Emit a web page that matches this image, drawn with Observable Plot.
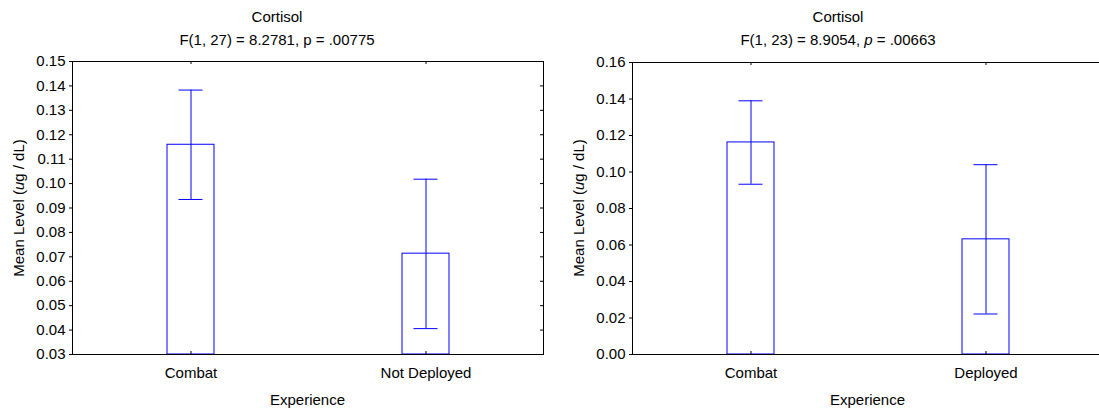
<!DOCTYPE html>
<html><head><meta charset="utf-8">
<script src="https://cdn.jsdelivr.net/npm/d3@7"></script>
<script src="https://cdn.jsdelivr.net/npm/@observablehq/plot@0.6"></script>
<style>
html,body{margin:0;padding:0;background:#fff;overflow:hidden}
#wrap{position:relative;width:1099px;height:408px;overflow:hidden;font-family:"Liberation Sans",Arial,sans-serif;color:#000;background:#fff}
.t{position:absolute;font-size:15px;white-space:nowrap;transform:translate(-50%,-50%);line-height:1}
.yl{position:absolute;font-size:15px;white-space:nowrap;transform:translate(-50%,-50%) rotate(-90deg);line-height:1}
.panel{position:absolute}
</style></head><body><div id="wrap"></div>
<script>
// ---- Left panel data ----
const leftTitle = "Cortisol";
const leftStat = "F(1, 27) = 8.2781, p = .00775";
const leftCategories = ["Combat", "Not Deployed"];
const leftMeans = [0.1159, 0.0713];
const leftLower = [0.0935, 0.0406];
const leftUpper = [0.1383, 0.1018];
const leftTicks = [0.03, 0.04, 0.05, 0.06, 0.07, 0.08, 0.09, 0.10, 0.11, 0.12, 0.13, 0.14, 0.15];

// ---- Right panel data ----
const rightTitle = "Cortisol";
const rightStatPre = "F(1, 23) = 8.9054, ";
const rightStatP = "p";
const rightStatPost = " = .00663";
const rightCategories = ["Combat", "Deployed"];
const rightMeans = [0.1162, 0.0631];
const rightLower = [0.0933, 0.0222];
const rightUpper = [0.1390, 0.1040];
const rightTicks = [0.00, 0.02, 0.04, 0.06, 0.08, 0.10, 0.12, 0.14, 0.16];

const xTitle = "Experience";
const yTitleHTML = "Mean Level (<i>u</i>g / dL)";

const wrap = document.getElementById("wrap");
const BLUE = "#0000ff";

function addDiv(cls, html, x, y) {
  const d = document.createElement("div");
  d.className = cls; d.innerHTML = html;
  d.style.left = x + "px"; d.style.top = y + "px";
  wrap.appendChild(d);
}

function makePanel({cats, means, lo, hi, ticks, left, top, width, height, mL, mR, mT, mB}) {
  const data = cats.map((c, i) => ({cat: c, mean: means[i], lo: lo[i], hi: hi[i]}));
  const dom = d3.extent(ticks);
  const plotW = width - mL - mR, plotH = height - mT - mB;
  const capInset = 11.5;
  const svg = Plot.plot({
    width, height,
    marginLeft: mL, marginRight: mR, marginTop: mT, marginBottom: mB,
    style: {fontFamily: '"Liberation Sans", Arial, sans-serif', fontSize: "15px", color: "#000", background: "transparent", maxWidth: "none", overflow: "visible"},
    x: {type: "band", domain: cats, paddingInner: 0.8, paddingOuter: 0.4},
    y: {domain: dom},
    marks: [
      Plot.barY(data, {x: "cat", y1: () => dom[0], y2: "mean", fill: "white", stroke: BLUE, strokeWidth: 1}),
      Plot.ruleX(data, {x: "cat", y1: "lo", y2: "hi", stroke: BLUE, strokeWidth: 1}),
      Plot.tickY(data, {x: "cat", y: "hi", stroke: BLUE, insetLeft: capInset, insetRight: capInset}),
      Plot.tickY(data, {x: "cat", y: "lo", stroke: BLUE, insetLeft: capInset, insetRight: capInset}),
      Plot.frame({stroke: "#000"}),
      Plot.tickY(ticks, {y: d => d, stroke: "#000", insetLeft: plotW - 3}),
      Plot.tickX(cats, {x: d => d, stroke: "#000", insetBottom: plotH - 3}),
      Plot.tickX(cats, {x: d => d, stroke: "#000", insetTop: plotH - 3}),
      Plot.axisY(ticks, {anchor: "left", tickSize: 3, tickPadding: 4, tickFormat: d3.format(".2f"), label: null, fill: "#000", stroke: "#000"}),
      Plot.axisX({anchor: "bottom", tickSize: 0, tickPadding: 12.5, label: null, fill: "#000"})
    ]
  });
  svg.classList.add("panel");
  svg.style.left = left + "px"; svg.style.top = top + "px";
  wrap.appendChild(svg);
}

// left panel: frame x 72..543, y 61..354
makePanel({cats: leftCategories, means: leftMeans, lo: leftLower, hi: leftUpper, ticks: leftTicks,
  left: 0, top: 48, width: 556, height: 360, mL: 72, mR: 13, mT: 13, mB: 54});
// right panel: frame x 632..1103, y 62..354
makePanel({cats: rightCategories, means: rightMeans, lo: rightLower, hi: rightUpper, ticks: rightTicks,
  left: 556, top: 48, width: 547, height: 360, mL: 76, mR: 0, mT: 14, mB: 54});

addDiv("t", leftTitle, 277, 16);
addDiv("t", leftStat, 277, 38.5);
addDiv("t", rightTitle, 838, 16);
addDiv("t", rightStatPre + "<i>" + rightStatP + "</i>" + rightStatPost, 838, 38.5);
addDiv("t", xTitle, 307.5, 398.5);
addDiv("t", xTitle, 867.5, 398.5);
addDiv("yl", yTitleHTML, 17.5, 207.5);
addDiv("yl", yTitleHTML, 578, 208);
</script></body></html>
